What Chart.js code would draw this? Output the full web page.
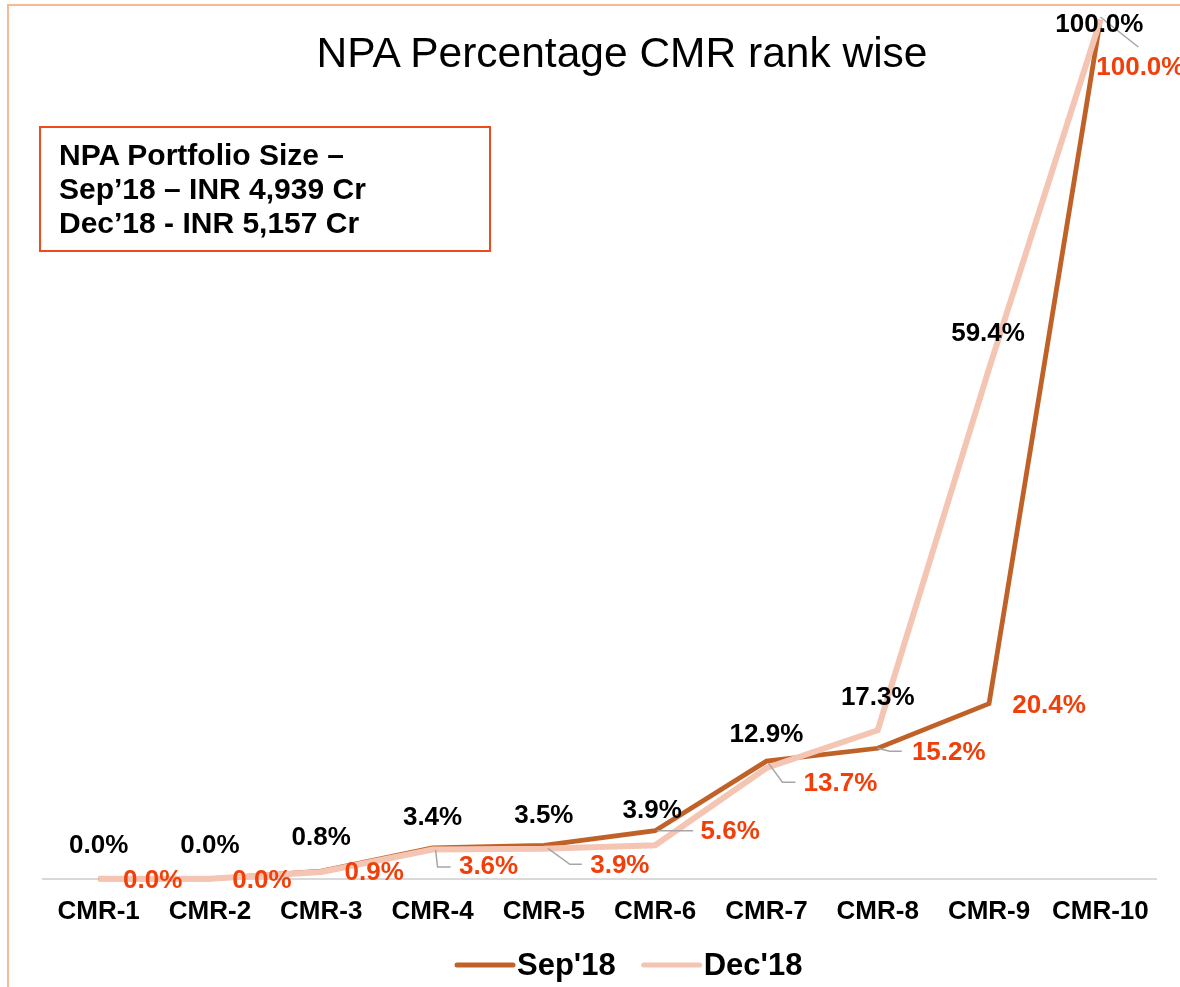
<!DOCTYPE html>
<html>
<head>
<meta charset="utf-8">
<script src="https://cdn.jsdelivr.net/npm/chart.js@4.4.1/dist/chart.umd.min.js"></script>
<style>
  html, body { margin: 0; padding: 0; background: #fff; overflow: hidden; }
  #wrap { position: relative; width: 1180px; height: 987px; overflow: hidden; }
  #frame { position: absolute; left: 7px; top: 4px; width: 1300px; height: 1100px; border: 2px solid #F6B993; }
  #chart { position: absolute; left: 0; top: 0; }
  #title { position: absolute; left: 0; top: 32px; width: 1244px; text-align: center;
           font: 42.5px/42px "Liberation Sans", Arial, sans-serif; color: #000; }
  #note { position: absolute; left: 39px; top: 126px; width: 452px; height: 126px; box-sizing: border-box;
          border: 2px solid #EE4B1C; padding: 10px 0 0 18px;
          font: bold 30px/34px "Liberation Sans", Arial, sans-serif; color: #000; }
</style>
</head>
<body>
<div id="wrap">
  <div id="frame"></div>
  <canvas id="chart" width="1180" height="987"></canvas>
  <div id="title">NPA Percentage CMR rank wise</div>
  <div id="note">NPA Portfolio Size –<br>Sep’18 – INR 4,939 Cr<br>Dec’18 - INR 5,157 Cr</div>
</div>
<script>
(function () {
  "use strict";

  // data
  const categories = ["CMR-1", "CMR-2", "CMR-3", "CMR-4", "CMR-5", "CMR-6", "CMR-7", "CMR-8", "CMR-9", "CMR-10"];
  const sep18 = [0.0, 0.0, 0.9, 3.6, 3.9, 5.6, 13.7, 15.2, 20.4, 100.0];
  const dec18 = [0.0, 0.0, 0.8, 3.4, 3.5, 3.9, 12.9, 17.3, 59.4, 100.0];
  const seriesNames = ["Sep'18", "Dec'18"];

  const FONT = '"Liberation Sans", Arial, sans-serif';
  const BROWN = "#C06228";
  const PINK = "#F5C5B4";
  const RED = "#F23F0A";

  // label placement relative to each point (px), and leader lines
  const sepLabelOffsets = [[54, 2], [52, 2], [53, 2], [56, 19], [76, 21], [75, 1], [74, 23], [71, 5], [60, 2], [40, 48]];
  const decLabelOffsets = [[0, -33], [0, -33], [0, -34], [0, -32], [0, -33], [-3, -34], [0, -33], [0, -32], [-1, -35], [-1, 5]];
  const sepLeaders = {
    3: [[3, 2], [5, 19], [18, 19]],
    4: [[4, 3], [26, 19], [38, 19]],
    5: [[2, 0], [38, 0]],
    6: [[2, 2], [16, 21], [29, 21]],
    7: [[0, 0], [12, 3], [24, 3]],
    9: [[0, -3], [38, 27]]
  };

  const labelPlugin = {
    id: "pointLabels",
    afterDatasetsDraw(chart) {
      const ctx = chart.ctx;
      const setup = [
        { offsets: sepLabelOffsets, leaders: sepLeaders, color: RED },
        { offsets: decLabelOffsets, leaders: {}, color: "#000" }
      ];
      ctx.save();
      chart.data.datasets.forEach(function (ds, di) {
        const meta = chart.getDatasetMeta(di);
        const s = setup[di];
        meta.data.forEach(function (pt, i) {
          const lead = s.leaders[i];
          if (lead) {
            ctx.beginPath();
            ctx.strokeStyle = "#A6A6A6";
            ctx.lineWidth = 1.5;
            lead.forEach(function (p, k) {
              if (k === 0) ctx.moveTo(pt.x + p[0], pt.y + p[1]);
              else ctx.lineTo(pt.x + p[0], pt.y + p[1]);
            });
            ctx.stroke();
          }
          ctx.font = "bold 26px " + FONT;
          ctx.fillStyle = s.color;
          ctx.textAlign = "center";
          ctx.textBaseline = "middle";
          ctx.fillText(ds.data[i].toFixed(1) + "%", pt.x + s.offsets[i][0], pt.y + s.offsets[i][1]);
        });
      });
      ctx.restore();
    }
  };

  // legend drawn as short lines with the name right next to it
  const legendPlugin = {
    id: "lineLegend",
    afterDraw(chart) {
      const ctx = chart.ctx;
      const y = 965;
      let x = 457;
      ctx.save();
      ctx.font = "bold 31px " + FONT;
      ctx.textBaseline = "middle";
      ctx.textAlign = "left";
      chart.data.datasets.forEach(function (ds) {
        ctx.beginPath();
        ctx.strokeStyle = ds.borderColor;
        ctx.lineWidth = 5;
        ctx.lineCap = "round";
        ctx.moveTo(x, y);
        ctx.lineTo(x + 56, y);
        ctx.stroke();
        ctx.fillStyle = "#000";
        ctx.fillText(ds.label, x + 60, y + 1);
        x += 60 + ctx.measureText(ds.label).width + 28;
      });
      ctx.restore();
    }
  };

  document.addEventListener("DOMContentLoaded", function () {
    new Chart(document.getElementById("chart"), {
      type: "line",
      data: {
        labels: categories,
        datasets: [
          { label: seriesNames[0], data: sep18, borderColor: BROWN, borderWidth: 4.8, order: 2 },
          { label: seriesNames[1], data: dec18, borderColor: PINK, borderWidth: 6, order: 1 }
        ]
      },
      options: {
        responsive: false,
        animation: false,
        events: [],
        layout: { padding: { left: 43, right: 24, top: 20, bottom: 43 } },
        elements: {
          point: { radius: 0, hoverRadius: 0 },
          line: { tension: 0, fill: false, borderJoinStyle: "miter" }
        },
        datasets: { line: { clip: false } },
        plugins: { legend: { display: false }, tooltip: { enabled: false }, title: { display: false } },
        scales: {
          x: {
            offset: true,
            grid: { display: false, drawTicks: false },
            border: { display: true, color: "#D9D9D9", width: 2 },
            ticks: { color: "#000", padding: 17, maxRotation: 0, autoSkip: false, font: { family: FONT, size: 26, weight: "bold" } }
          },
          y: { display: false, min: 0, max: 100 }
        }
      },
      plugins: [labelPlugin, legendPlugin]
    });
  });
})();
</script>
</body>
</html>
